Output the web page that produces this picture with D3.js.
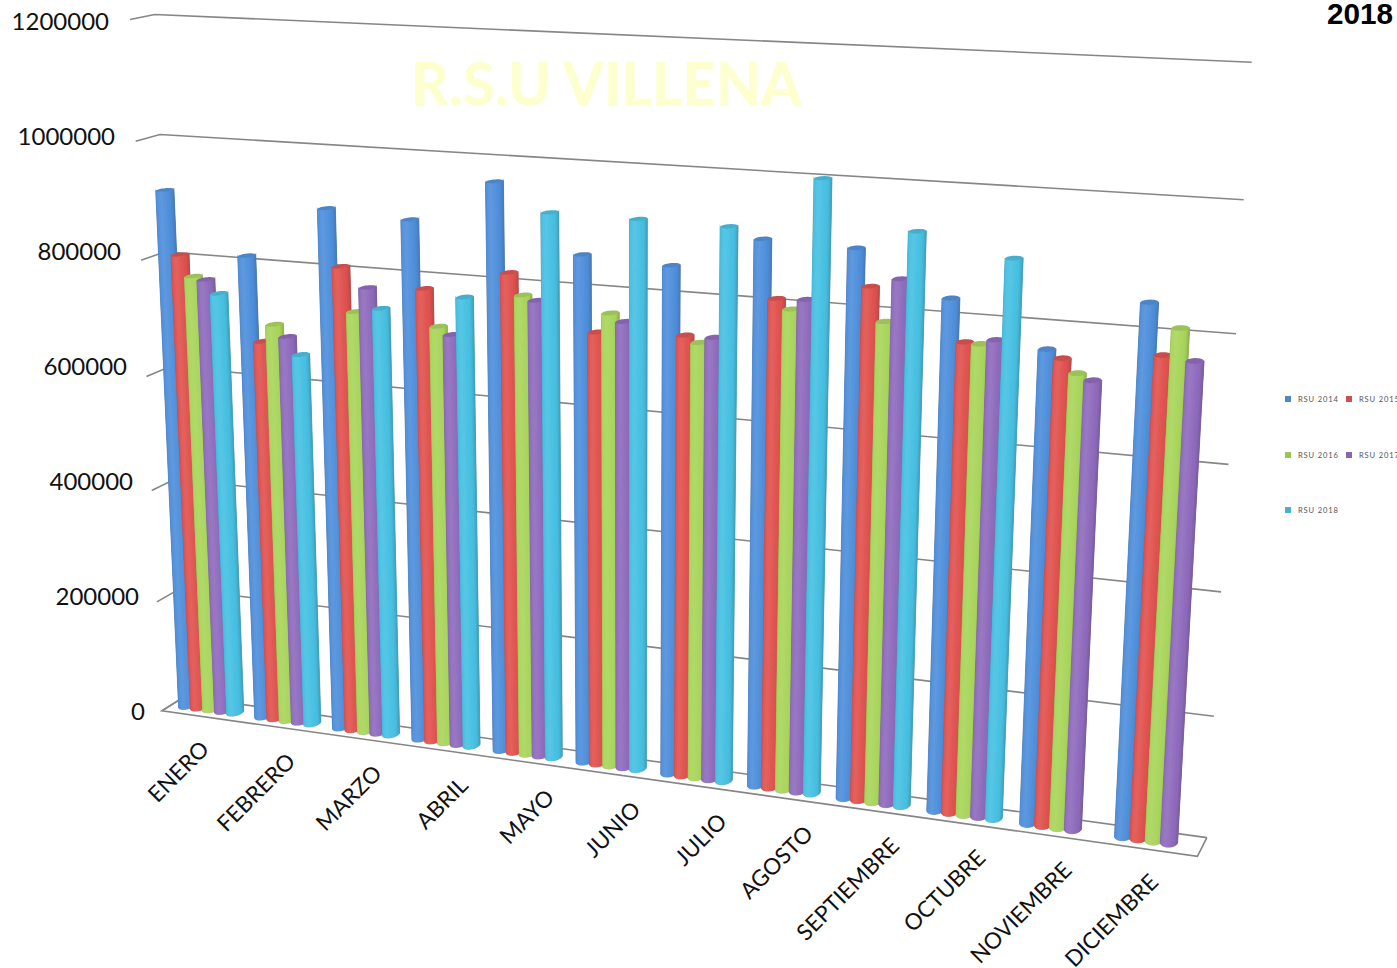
<!DOCTYPE html>
<html><head><meta charset="utf-8">
<script src="https://cdnjs.cloudflare.com/ajax/libs/d3/7.8.5/d3.min.js"></script>
<style>html,body{margin:0;padding:0;background:#fff;overflow:hidden}svg{display:block}</style></head>
<body><svg id="c" width="1397" height="968"></svg>
<script>
const months=["ENERO","FEBRERO","MARZO","ABRIL","MAYO","JUNIO","JULIO","AGOSTO","SEPTIEMBRE","OCTUBRE","NOVIEMBRE","DICIEMBRE"];
const seriesNames=["RSU 2014","RSU 2015","RSU 2016","RSU 2017","RSU 2018"];
const colors=["#4f8fdb","#e0524f","#a9d55b","#8f6bbd","#47c0e2"];
const rsu2014=[914000,813000,902000,893000,964000,856000,849000,901000,897000,830000,763000,846000];
const rsu2015=[806000,669000,807000,781000,818000,732000,739000,809000,839000,764000,751000,768000];
const rsu2016=[771000,700000,733000,720000,783000,765000,729000,794000,786000,763000,730000,811000];
const rsu2017=[767000,681000,775000,708000,776000,753000,739000,811000,854000,771000,721000,763000];
const rsu2018=[745000,652000,742000,772000,920000,919000,917000,1001000,929000,898000,null,null];
const allSeries=[rsu2014,rsu2015,rsu2016,rsu2017,rsu2018];
const yTicks=[0,200000,400000,600000,800000,1000000,1200000];

// camera calibration: box position (category, value in millions, depth) -> picture point
const calib=[[0,0,0,163,711],[12,0,0,1197,858],[0,0,1,182,698],[12,0,1,1207,836],[0,1.2,0,128,21],[0,1.2,1,155,15],[12,1.2,1,1252,62],
[12,1,1,1244,200],[12,.8,1,1236,334],[12,.6,1,1229,464],[12,.4,1,1221,592],[12,.2,1,1213,716],
[0,1,0,134,143],[0,.8,0,141,258],[0,.6,0,147,373],[0,.4,0,153,490],[0,.2,0,158,603],[0,1,1,162,134]];
function solve(A,b){const n=b.length;A=A.map((r,i)=>[...r,b[i]]);for(let i=0;i<n;i++){let p=i;for(let k=i+1;k<n;k++)if(Math.abs(A[k][i])>Math.abs(A[p][i]))p=k;[A[i],A[p]]=[A[p],A[i]];for(let k=0;k<n;k++){if(k==i)continue;const f=A[k][i]/A[i][i];for(let j=i;j<=n;j++)A[k][j]-=f*A[i][j];}}return A.map((r,i)=>r[n]/r[i]);}
const R=[],Y=[];calib.forEach(([u,v,w,x,y])=>{R.push([u,v,w,1,0,0,0,0,-x*u,-x*v,-x*w]);Y.push(x);R.push([0,0,0,0,u,v,w,1,-y*u,-y*v,-y*w]);Y.push(y);});
const N=d3.range(11).map(i=>d3.range(11).map(j=>d3.sum(R,r=>r[i]*r[j])));const B=d3.range(11).map(i=>d3.sum(R,(r,k)=>r[i]*Y[k]));
const h=solve(N,B);
function P(u,v,w){const d=h[8]*u+h[9]*v+h[10]*w+1;return [(h[0]*u+h[1]*v+h[2]*w+h[3])/d,(h[4]*u+h[5]*v+h[6]*w+h[7])/d];}

const vScale=d3.scaleLinear().domain([0,1200000]).range([0,1.2]);
const uScale=d3.scaleBand().domain(d3.range(5)).range([0.105,0.895]);
const U=(i,j)=>i+uScale(j)+uScale.bandwidth()/2+0.002;
const ru=0.084,rw=0.25,wc=0.5;

const svg=d3.select("#c");
const line=d3.line();
// title
svg.append("text").attr("x",411).attr("y",106).attr("font-family","Lato").attr("font-weight",900).attr("font-size",60)
  .attr("textLength",391).attr("lengthAdjust","spacingAndGlyphs").attr("fill","#fdffcf").text("R.S.U VILLENA");
svg.append("text").attr("x",1327).attr("y",24).attr("font-family","Liberation Sans").attr("font-weight",700).attr("font-size",29.7).attr("fill","#000").text("2018");
// grid
const grid=svg.append("g").attr("fill","none").attr("stroke","#868686").attr("stroke-width",1.6);
yTicks.forEach(t=>{const v=vScale(t);grid.append("path").attr("d",line([P(0,v,0),P(0,v,1),P(12,v,1)]));});
grid.append("path").attr("d",line([P(0,0,1),P(0,0,0),P(12,0,0),P(12,0,1)]));
// axis labels
const lx=d3.scaleLinear().domain([0,1200000]).range([145,109]);
const ly=d3.scaleLinear().domain([0,1200000]).range([712,22]);
svg.append("g").attr("font-family","Lato").attr("font-size",24).attr("fill","#111").attr("text-anchor","end")
 .selectAll("text").data(yTicks).join("text").attr("x",d=>lx(d)).attr("y",d=>ly(d)).attr("dy",".35em").text(d=>d);
const cx=d3.scaleLinear().domain([0,11]).range([205,1154]);
const cy=d3.scaleLinear().domain([0,11]).range([745,878]);
svg.append("g").attr("font-family","Lato").attr("font-size",22.5).attr("fill","#111").attr("text-anchor","end")
 .selectAll("text").data(months).join("text")
 .attr("transform",(d,i)=>`translate(${cx(i)},${cy(i)}) rotate(-45)`).attr("dy",".35em").text(d=>d);
// bars
const defs=svg.append("defs");
defs.append("filter").attr("id","soft").attr("x","-2%").attr("y","-2%").attr("width","104%").attr("height","104%").append("feGaussianBlur").attr("stdDeviation",0.6);
const bars=svg.append("g").attr("filter","url(#soft)");
const shade=d3.scaleLinear().domain([0,.12,.35,.7,1]).range([-.3,0,.1,-.02,-.42]);
const nStrip=12;
const ring=(u,v,t)=>P(u+ru*Math.sin(t),v,wc-rw*Math.cos(t));
function extremes(u,v){
  const ts=d3.range(0,181).map(d=>d/180*Math.PI);
  const tR=ts[d3.greatestIndex(ts,t=>ring(u,v,t)[0])];
  const tL=-ts[d3.leastIndex(ts,t=>ring(u,v,-t)[0])];
  return [tL,tR];
}
function drawBar(i,j,val){
  const u=U(i,j),v=vScale(val);
  const eb=extremes(u,0),et=extremes(u,v);
  const pts=d3.range(nStrip+1).map(k=>{const s=k/nStrip;
    return {b:ring(u,0,eb[0]+(eb[1]-eb[0])*s),a:ring(u,v,et[0]+(et[1]-et[0])*s)};});
  const g=bars.append("g");
  const outline=[...pts.map(p=>p.b),...pts.slice().reverse().map(p=>p.a)];
  g.append("path").attr("d",line(outline)+"Z").attr("fill",colors[j]).attr("stroke","#777").attr("stroke-opacity",.4).attr("stroke-width",1.4);
  d3.range(nStrip).forEach(k=>{
    const s=(k+.5)/nStrip,c=colors[j],f=shade(s);
    const col=f>=0?d3.interpolateRgb(c,"#fff")(f):d3.interpolateRgb(c,"#333")(-f*.6);
    g.append("path").attr("d",line([pts[k].b,pts[k+1].b,pts[k+1].a,pts[k].a])+"Z").attr("fill",col).attr("stroke",col).attr("stroke-width",.7);
  });
  const cap=d3.range(36).map(k=>ring(u,v,k/36*2*Math.PI));
  g.append("path").attr("d",line(cap)+"Z").attr("fill",d3.interpolateRgb(colors[j],"#333")(.12));
}
months.forEach((m,i)=>allSeries.forEach((s,j)=>{if(s[i]!=null)drawBar(i,j,s[i]);}));
// legend
const legendCols=[1285,1346],legendRows=[399,455,510];
const lg=svg.append("g").selectAll("g").data(seriesNames).join("g")
 .attr("transform",(d,i)=>`translate(${legendCols[i%2]},${legendRows[Math.floor(i/2)]})`);
lg.append("rect").attr("x",0).attr("y",-3).attr("width",6).attr("height",6).attr("fill",(d,i)=>d3.interpolateRgb(colors[i],"#444")(.12));
lg.append("text").attr("x",13).attr("y",3).attr("font-family","Lato").attr("font-size",7.6).attr("letter-spacing",.85).attr("fill","#555").text(d=>d);
</script></body></html>
